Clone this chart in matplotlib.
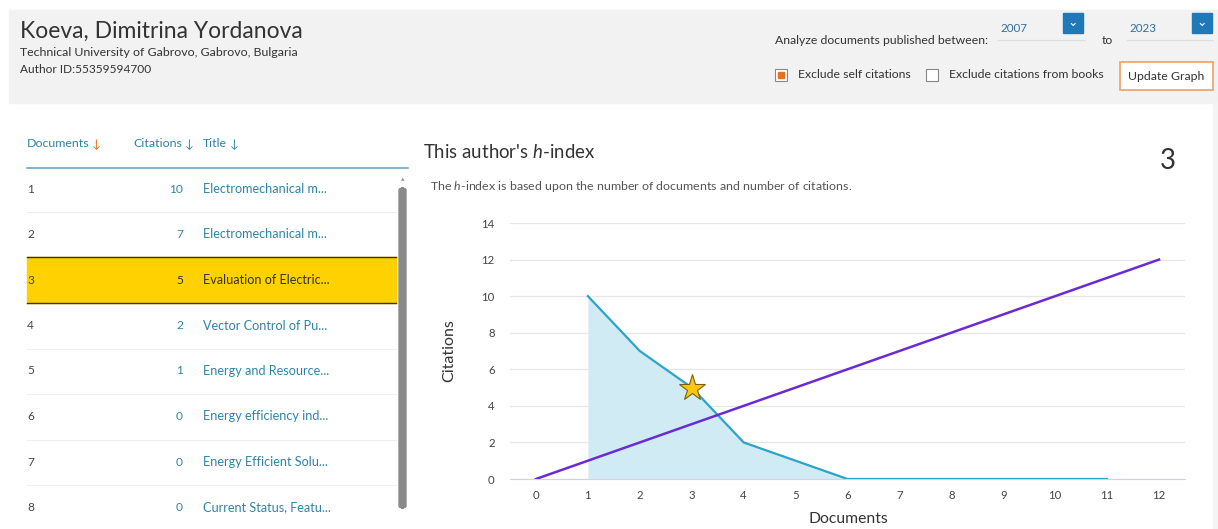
import matplotlib
matplotlib.use("Agg")
from matplotlib import pyplot as plt
from matplotlib.patches import Rectangle, FancyBboxPatch

plt.rcParams['font.family'] = ['Lato', 'DejaVu Sans']
plt.rcParams['mathtext.fontset'] = 'custom'
plt.rcParams['mathtext.rm'] = 'Lato'
plt.rcParams['mathtext.it'] = 'Lato:italic'

# data
author = "Koeva, Dimitrina Yordanova"
affiliation = "Technical University of Gabrovo, Gabrovo, Bulgaria"
author_id = "Author ID:55359594700"
year_from = "2007"
year_to = "2023"
h_index = 3

docs = [1, 2, 3, 4, 5, 6, 7, 8, 9, 10, 11]
cites = [10, 7, 5, 2, 1, 0, 0, 0, 0, 0, 0]
diag = list(range(0, 13))

table_docs = [1, 2, 3, 4, 5, 6, 7, 8]
table_cites = [10, 7, 5, 2, 1, 0, 0, 0]
table_titles = ["Electromechanical m...", "Electromechanical m...", "Evaluation of Electric...",
                "Vector Control of Pu...", "Energy and Resource...", "Energy efficiency ind...",
                "Energy Efficient Solu...", "Current Status, Featu..."]

W, H = 1218, 529
BLUE = '#2d84a8'
GRAY = '#444444'
ORANGE = '#e9711c'
FS = 8.8

fig = plt.figure(figsize=(W / 100, H / 100), dpi=100)


def px(x, y):
    return x / W, 1 - y / H


def txt(x, y, s, **kw):
    kw.setdefault('va', 'center')
    kw.setdefault('color', GRAY)
    fig.text(*px(x, y), s, **kw)


def rect(x0, y0, x1, y1, **kw):
    fx, fy = px(x0, y1)
    fig.patches.append(Rectangle((fx, fy), (x1 - x0) / W, (y1 - y0) / H,
                                 transform=fig.transFigure, figure=fig, **kw))


def hline(x0, x1, y, **kw):
    fig.add_artist(plt.Line2D([x0 / W, x1 / W], [1 - y / H, 1 - y / H],
                              transform=fig.transFigure, **kw))


# header panel
rect(9, 10, W, 103, color='#f2f2f2', zorder=0)
txt(20, 31, author, fontsize=16.5, color='#333333')
txt(20, 53, affiliation, fontsize=8.9, color='#333333')
txt(20, 70, author_id, fontsize=8.6, color='#333333')

txt(775, 41, "Analyze documents published between:", fontsize=FS, color='#333333')
txt(1000, 29, year_from, fontsize=8.4, color='#2e6fa0')
hline(998, 1085, 40, color='#dddddd', lw=0.8)
rect(1063, 13, 1083, 33, color='#1f79b8', zorder=2)
txt(1073, 22, "⌄", fontsize=9, color='white', ha='center', family=['DejaVu Sans'])
txt(1102, 41, "to", fontsize=FS, color='#333333')
txt(1129, 29, year_to, fontsize=8.4, color='#2e6fa0')
hline(1127, 1213, 40, color='#dddddd', lw=0.8)
rect(1192, 13, 1212, 33, color='#1f79b8', zorder=2)
txt(1202, 22, "⌄", fontsize=9, color='white', ha='center', family=['DejaVu Sans'])

rect(775, 69, 787, 81, facecolor='white', edgecolor='#888888', lw=0.8, zorder=2)
rect(778, 72, 784, 78, color=ORANGE, zorder=3)
txt(798, 75, "Exclude self citations", fontsize=FS, color='#333333')
rect(926, 69, 938, 81, facecolor='white', edgecolor='#888888', lw=0.8, zorder=2)
txt(949, 75, "Exclude citations from books", fontsize=FS, color='#333333')
rect(1120, 62, 1213, 90, facecolor='white', edgecolor='#f0a060', lw=1.2, zorder=2)
txt(1166, 76, "Update Graph", fontsize=FS, color='#333333', ha='center')

# table
txt(27, 144, "Documents", fontsize=8.9, color=BLUE)
txt(92, 145, "↓", fontsize=8.5, color=ORANGE)
txt(133, 144, "Citations", fontsize=8.9, color=BLUE)
txt(185, 145, "↓", fontsize=8.5, color=BLUE)
txt(203, 144, "Title", fontsize=8.9, color=BLUE)
txt(230, 145, "↓", fontsize=8.5, color=BLUE)
hline(27, 408, 168, color='#6aa8c6', lw=1.2)

row_y0 = 189
row_step = 45.5
for i, (d, c, t) in enumerate(zip(table_docs, table_cites, table_titles)):
    y = row_y0 + i * row_step
    if d == h_index:
        rect(27, y - 23, 396, y + 23, color='#ffd100', zorder=1)
        hline(27, 396, y - 23, color='#333333', lw=1.0)
        hline(27, 396, y + 23, color='#333333', lw=1.0)
        tc = '#333333'
    else:
        tc = BLUE
        if i < len(table_docs) - 1 and table_docs[i + 1] != h_index:
            hline(27, 396, y + 23, color='#eeeeee', lw=0.8)
    txt(27, y, str(d), fontsize=8.6, color='#444444')
    txt(183, y, str(c), fontsize=8.6, color=tc, ha='right')
    txt(203, y, t, fontsize=9.1, color=tc)

# scrollbar
fig.patches.append(FancyBboxPatch(px(399, 508), 7 / W, 320 / H, boxstyle="round,pad=0,rounding_size=0.004",
                                  transform=fig.transFigure, figure=fig, color='#8a8a8a'))
txt(403, 179, "▴", fontsize=5, color='#999999', ha='center', family=['DejaVu Sans'])

# right strip
rect(1213, 103, W, H, color='#f4f4f4', zorder=0)

# h-index titles
txt(423, 152, r"This author's $\mathit{h}$-index", fontsize=13.4, color='#333333')
txt(430, 186, r"The $\mathit{h}$-index is based upon the number of documents and number of citations.",
    fontsize=8.9, color='#555555')
txt(1168, 161, str(h_index), fontsize=20, color='#333333', ha='center')

# chart
ax = fig.add_axes([510 / W, 1 - 479 / H, 675 / W, 256 / H])
ax.fill_between(docs, cites, 0, color='#d1ebf4', lw=0, zorder=1)
ax.plot(docs, cites, color='#2aa4c9', lw=1.6, zorder=3)
ax.plot(diag, diag, color='#6a2bd4', lw=1.8, zorder=4)
ax.plot([h_index], [cites[h_index - 1]], marker='*', ms=20, color='#f9c80e',
        mec='#7a6010', mew=0.8, zorder=5, ls='none')

ax.set_xlim(-0.5, 12.5)
ax.set_ylim(0, 14)
ax.set_xticks(range(0, 13))
ax.set_yticks(range(0, 15, 2))
ax.grid(axis='y', color='#e6e6e6', lw=0.9)
ax.grid(axis='x', visible=False)
ax.set_axisbelow(True)
for s in ['top', 'right', 'left']:
    ax.spines[s].set_visible(False)
ax.spines['bottom'].set_color('#ccd6eb')
ax.tick_params(length=0, labelsize=8.2, labelcolor='#444444')
ax.tick_params(axis='x', pad=8)
ax.tick_params(axis='y', pad=11)
ax.set_facecolor('none')

txt(449, 351, "Citations", fontsize=11.5, color='#333333', rotation=90, ha='center')
txt(848, 519, "Documents", fontsize=11.3, color='#333333', ha='center')

fig.savefig("out.png", dpi=100)
